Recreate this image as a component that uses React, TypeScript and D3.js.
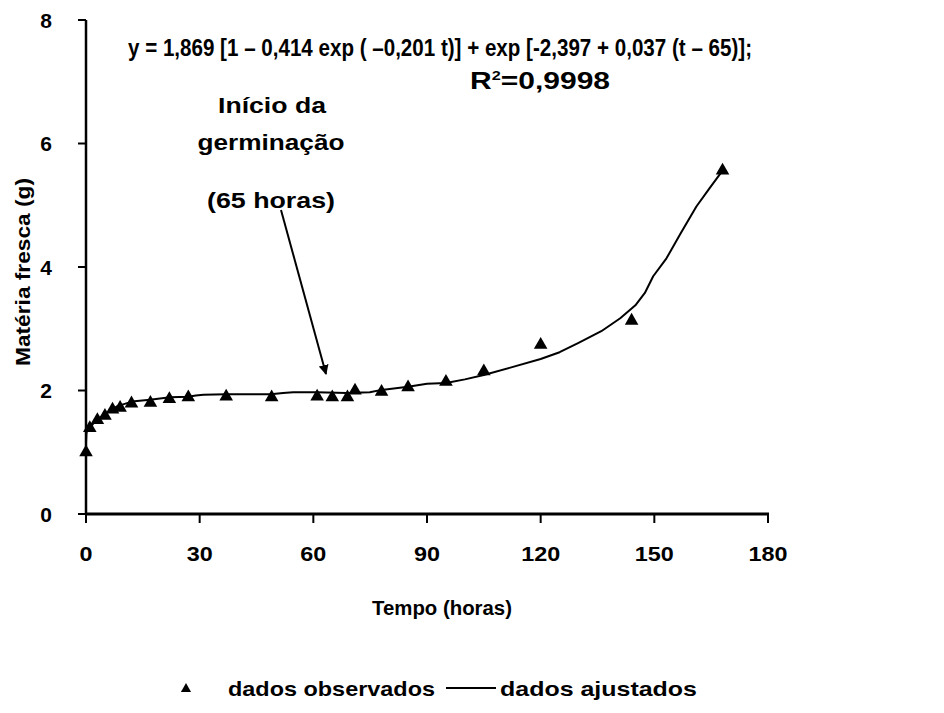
import React from "react";
import * as d3 from "d3";

const obsT = [0, 1, 3, 5, 7, 9, 12, 17, 22, 27, 37, 49, 61, 65, 69, 71, 78, 85, 95, 105, 120, 144, 168];
const obsY = [1.0, 1.39, 1.52, 1.59, 1.69, 1.72, 1.79, 1.8, 1.86, 1.89, 1.9, 1.89, 1.9, 1.89, 1.89, 2.0, 1.98, 2.05, 2.14, 2.31, 2.74, 3.13, 5.56];

const fitT = [0, 0.1, 0.3, 1, 2, 3, 4.6, 6, 8.1, 10, 12.1, 16.9, 22.2, 27, 29, 31, 37, 48.8, 52, 54.7, 60.9, 68.8, 74.9, 78, 85, 90, 95, 100, 105, 112, 120, 125, 130, 136, 141, 145, 147.5, 149.7, 153.2, 157, 161.1, 164.5, 168];
const fitY = [1.15, 1.3, 1.36, 1.39, 1.47, 1.53, 1.6, 1.66, 1.74, 1.78, 1.82, 1.85, 1.89, 1.9, 1.92, 1.93, 1.94, 1.94, 1.96, 1.97, 1.97, 1.96, 1.97, 2.01, 2.06, 2.11, 2.12, 2.18, 2.25, 2.37, 2.51, 2.62, 2.77, 2.96, 3.17, 3.38, 3.58, 3.85, 4.14, 4.55, 4.98, 5.27, 5.56];

const xTicks = [0, 30, 60, 90, 120, 150, 180];
const yTicks = [0, 2, 4, 6, 8];

const FONT = "'Liberation Sans', Arial, sans-serif";

export default function App() {
  const W = 944, H = 713;
  const x = d3.scaleLinear().domain([0, 180]).range([86, 768]);
  const y = d3.scaleLinear().domain([0, 8]).range([514, 20]);
  const line = d3.line<number>().x((_, i) => x(fitT[i])).y((d) => y(d)).curve(d3.curveLinear);
  const tri = d3.symbol().type(d3.symbolTriangle).size(80)();
  const triSmall = d3.symbol().type(d3.symbolTriangle).size(45)();

  return (
    <svg width={W} height={H} style={{ position: "absolute", left: 0, top: 0, background: "#fff" }}>
      <defs>
        <marker id="ah" viewBox="0 0 10 10" refX="9" refY="5" markerWidth="5" markerHeight="5" orient="auto">
          <path d="M0,0 L10,5 L0,10 z" fill="#000" />
        </marker>
      </defs>
      <rect width={W} height={H} fill="#fff" />
      {/* axes */}
      <line x1={x(0)} x2={x(0)} y1={y(8)} y2={y(0)} stroke="#000" strokeWidth={2.5} />
      <line x1={x(0) - 1} x2={x(180) + 1} y1={y(0)} y2={y(0)} stroke="#000" strokeWidth={3} />
      {yTicks.map((t) => (
        <g key={"y" + t}>
          <line x1={x(0) - 8} x2={x(0)} y1={y(t)} y2={y(t)} stroke="#000" strokeWidth={2} />
          <text x={x(0) - 34} y={y(t)} dy="0.36em" textAnchor="end" fontFamily={FONT} fontWeight="bold" fontSize={21}>{t}</text>
        </g>
      ))}
      {xTicks.map((t) => (
        <g key={"x" + t}>
          <line x1={x(t)} x2={x(t)} y1={y(0)} y2={y(0) + 9} stroke="#000" strokeWidth={2} />
          <text x={x(t)} y={553} dy="0.36em" textAnchor="middle" fontFamily={FONT} fontWeight="bold" fontSize={21}
            textLength={String(t).length * 13} lengthAdjust="spacingAndGlyphs">{t}</text>
        </g>
      ))}
      {/* fitted curve */}
      <path d={line(fitY) || ""} fill="none" stroke="#000" strokeWidth={2} strokeLinejoin="round" />
      {/* observed */}
      {obsT.map((t, i) => (
        <path key={"p" + i} d={tri || ""} transform={`translate(${x(t)},${y(obsY[i])})`} fill="#000" />
      ))}
      {/* axis titles */}
      <text transform={`translate(30,272) rotate(-90)`} textAnchor="middle" fontFamily={FONT} fontWeight="bold" fontSize={20}
        textLength={188} lengthAdjust="spacingAndGlyphs">Matéria fresca (g)</text>
      <text x={442} y={615} textAnchor="middle" fontFamily={FONT} fontWeight="bold" fontSize={20}
        textLength={140} lengthAdjust="spacingAndGlyphs">Tempo (horas)</text>
      {/* equation */}
      <text x={440} y={56} textAnchor="middle" fontFamily={FONT} fontWeight="bold" fontSize={24}
        textLength={624} lengthAdjust="spacingAndGlyphs">y = 1,869 [1 – 0,414 exp ( –0,201 t)] + exp [-2,397 + 0,037 (t – 65)];</text>
      <text x={540} y={89} textAnchor="middle" fontFamily={FONT} fontWeight="bold" fontSize={24}
        textLength={140} lengthAdjust="spacingAndGlyphs">R<tspan dy="-9" fontSize={13}>2</tspan><tspan dy="9">=0,9998</tspan></text>
      {/* annotation */}
      <text x={272} y={113} textAnchor="middle" fontFamily={FONT} fontWeight="bold" fontSize={22}
        textLength={108} lengthAdjust="spacingAndGlyphs">Início da</text>
      <text x={271} y={150} textAnchor="middle" fontFamily={FONT} fontWeight="bold" fontSize={22}
        textLength={147} lengthAdjust="spacingAndGlyphs">germinação</text>
      <text x={271} y={208} textAnchor="middle" fontFamily={FONT} fontWeight="bold" fontSize={22}
        textLength={128} lengthAdjust="spacingAndGlyphs">(65 horas)</text>
      <line x1={281} y1={210} x2={326} y2={374} stroke="#000" strokeWidth={2} markerEnd="url(#ah)" />
      {/* legend */}
      <path d={triSmall || ""} transform="translate(186,689)" fill="#000" />
      <text x={228} y={696} fontFamily={FONT} fontWeight="bold" fontSize={21}
        textLength={207} lengthAdjust="spacingAndGlyphs">dados observados</text>
      <line x1={446} x2={496} y1={688} y2={688} stroke="#000" strokeWidth={2} />
      <text x={500} y={696} fontFamily={FONT} fontWeight="bold" fontSize={21}
        textLength={197} lengthAdjust="spacingAndGlyphs">dados ajustados</text>
    </svg>
  );
}
